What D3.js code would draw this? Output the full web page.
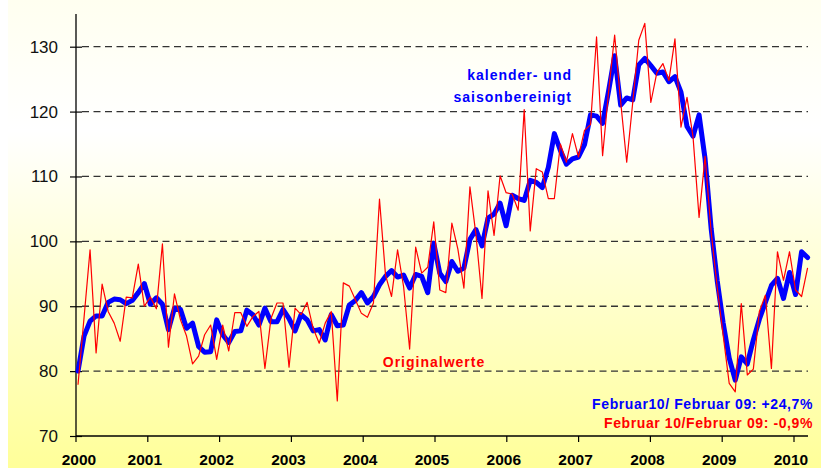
<!DOCTYPE html>
<html>
<head>
<meta charset="utf-8">
<script src="https://cdn.jsdelivr.net/npm/d3@7"></script>
<style>
  html, body { margin: 0; padding: 0; background: #fff; }
  svg { display: block; font-family: "Liberation Sans", Arial, sans-serif; }
</style>
</head>
<body>
<script>
// monthly index, Jan 2000 .. Feb 2010
const years = [2000, 2001, 2002, 2003, 2004, 2005, 2006, 2007, 2008, 2009, 2010];
const yTicks = [70, 80, 90, 100, 110, 120, 130];

// kalender- und saisonbereinigt
const adjusted = [
  80.0, 85.4, 87.7, 88.5, 88.5, 90.6, 91.1, 91.0, 90.4, 90.9, 92.1, 93.5,
  90.3, 91.3, 90.3, 86.4, 89.7, 89.5, 86.6, 87.4, 83.8, 82.9, 83.0, 87.9,
  85.6, 84.4, 86.1, 86.2, 89.4, 88.7, 87.1, 89.7, 87.6, 87.6, 89.5, 88.1,
  86.2, 88.7, 87.9, 86.2, 86.4, 84.8, 88.7, 87.0, 87.1, 90.2, 90.9, 92.1,
  90.5, 91.5, 93.3, 94.6, 95.5, 94.5, 94.8, 92.8, 94.9, 94.6, 92.1, 99.7,
  95.1, 93.8, 96.9, 95.4, 95.9, 100.3, 101.8, 99.3, 103.6, 104.2, 105.9, 102.4,
  107.1, 106.6, 106.3, 109.4, 109.1, 108.3, 111.4, 116.6, 114.0, 111.9, 112.7, 113.0,
  114.9, 119.5, 119.3, 118.2, 123.2, 128.6, 121.0, 122.1, 121.8, 127.2, 128.2, 127.1,
  125.9, 126.1, 124.6, 125.4, 123.0, 117.7, 116.2, 119.5, 112.7, 102.0, 94.0, 87.4,
  82.0, 78.6, 82.2, 81.1, 84.8, 88.0, 90.6, 93.2, 94.3, 91.2, 95.2, 91.8,
  98.4, 97.5
];

// Originalwerte
const original = [
  77.9, 88.2, 98.7, 82.8, 93.4, 89.2, 87.4, 84.6, 91.4, 91.3, 96.5, 90.0,
  91.4, 89.6, 99.6, 83.7, 91.9, 87.9, 85.4, 81.1, 82.3, 85.6, 87.1, 81.8,
  87.1, 83.1, 89.0, 89.0, 86.9, 88.4, 89.2, 80.4, 88.1, 90.5, 90.5, 80.6,
  89.7, 88.7, 90.6, 86.6, 84.3, 87.4, 89.2, 75.4, 93.6, 93.1, 91.0, 88.9,
  88.3, 90.5, 106.5, 94.8, 91.5, 98.7, 93.0, 83.4, 99.1, 95.1, 96.0, 103.0,
  92.5, 92.1, 102.8, 98.8, 92.8, 108.4, 101.0, 91.2, 107.8, 100.9, 110.1, 107.5,
  107.3, 104.8, 120.3, 101.6, 111.2, 110.7, 106.6, 106.6, 115.0, 112.2, 116.6, 113.0,
  117.1, 118.0, 131.5, 113.2, 123.1, 131.8, 121.5, 112.2, 121.4, 131.0, 133.6, 121.4,
  126.0, 127.4, 124.8, 131.2, 117.6, 122.2, 116.1, 103.7, 113.1, 101.5, 93.0, 85.5,
  78.1, 76.8, 90.4, 79.4, 80.3, 89.2, 91.7, 80.4, 98.4, 94.0, 98.4, 92.5,
  91.5, 95.9
];

const width = 821;
const height = 468;

const svg = d3.select("body")
  .append("svg")
  .attr("width", width)
  .attr("height", height);

// background gradient
const grad = svg.append("defs")
  .append("linearGradient")
  .attr("id", "bg")
  .attr("x1", 0).attr("y1", 0).attr("x2", 0).attr("y2", 1);
grad.append("stop").attr("offset", "0%").attr("stop-color", "#fffff0");
grad.append("stop").attr("offset", "28%").attr("stop-color", "#ffffff");
grad.append("stop").attr("offset", "100%").attr("stop-color", "#ffff99");

svg.append("rect")
  .attr("x", 8).attr("y", 0)
  .attr("width", width - 8).attr("height", height)
  .attr("fill", "url(#bg)");

// scales
const x = d3.scaleLinear().domain([0, 121]).range([78, 807.6]);
const xYear = d3.scaleLinear().domain([2000, 2010]).range([76, 794]);
const y = d3.scaleLinear().domain([70, 130]).range([436, 46.7]);

const left = 76;
const right = 808;

// dashed grid lines
svg.append("g")
  .selectAll("line")
  .data(yTicks.filter(d => d > 70))
  .enter()
  .append("line")
  .attr("x1", left + 6)
  .attr("x2", right)
  .attr("y1", d => y(d))
  .attr("y2", d => y(d))
  .attr("stroke", "#333")
  .attr("stroke-width", 1.3)
  .attr("stroke-dasharray", "7,4.5");

// y axis
const yAxis = svg.append("g")
  .attr("transform", `translate(${left},0)`)
  .call(d3.axisLeft(y).tickValues(yTicks).tickSizeInner(6).tickSizeOuter(0).tickPadding(12));
yAxis.select(".domain").attr("d", `M0,14V${y(70)}`).attr("stroke", "#000").attr("stroke-width", 1.3);
yAxis.selectAll(".tick line").attr("x1", -6).attr("x2", 6).attr("stroke", "#000").attr("stroke-width", 1.2);
yAxis.selectAll(".tick text")
  .attr("font-size", 17)
  .attr("fill", "#111")
  .attr("font-family", "'Liberation Sans', Arial, sans-serif");

// x axis
const xAxis = svg.append("g").attr("transform", `translate(0,${y(70)})`);
xAxis.append("line")
  .attr("x1", left).attr("x2", right)
  .attr("stroke", "#000").attr("stroke-width", 1.3);
xAxis.selectAll(".xtick")
  .data(years)
  .enter()
  .append("line")
  .attr("x1", d => xYear(d)).attr("x2", d => xYear(d))
  .attr("y1", 0).attr("y2", 6)
  .attr("stroke", "#000").attr("stroke-width", 1.2);
xAxis.selectAll(".xlabel")
  .data(years)
  .enter()
  .append("text")
  .attr("x", (d, i) => i === 0 ? xYear(d) + 3 : xYear(d) - 3)
  .attr("y", 28.5)
  .attr("text-anchor", "middle")
  .attr("font-size", 15.5)
  .attr("font-weight", "bold")
  .attr("fill", "#000")
  .text(d => d);

// series
const line = d3.line()
  .x((d, i) => x(i))
  .y(d => y(d));

svg.append("path")
  .datum(adjusted)
  .attr("d", line)
  .attr("fill", "none")
  .attr("stroke", "#0000ff")
  .attr("stroke-width", 5)
  .attr("stroke-linejoin", "round")
  .attr("stroke-linecap", "round");

svg.append("path")
  .datum(original)
  .attr("d", line)
  .attr("fill", "none")
  .attr("stroke", "#ff0000")
  .attr("stroke-width", 1.2)
  .attr("stroke-linejoin", "round");

// annotations
function label(txt, tx, ty, color, anchor, spacing) {
  svg.append("text")
    .attr("x", tx)
    .attr("y", ty)
    .attr("text-anchor", anchor)
    .attr("font-size", 14)
    .attr("font-weight", "bold")
    .attr("letter-spacing", spacing)
    .attr("fill", color)
    .text(txt);
}

label("kalender- und", 572, 80, "#0000ff", "end", 1);
label("saisonbereinigt", 572, 102, "#0000ff", "end", 1);
label("Originalwerte", 434, 367, "#ff0000", "middle", 1);
label("Februar10/ Februar 09: +24,7%", 813, 409, "#0000ff", "end", 0.6);
label("Februar 10/Februar 09: -0,9%", 813, 428, "#ff0000", "end", 0.6);
</script>
</body>
</html>
